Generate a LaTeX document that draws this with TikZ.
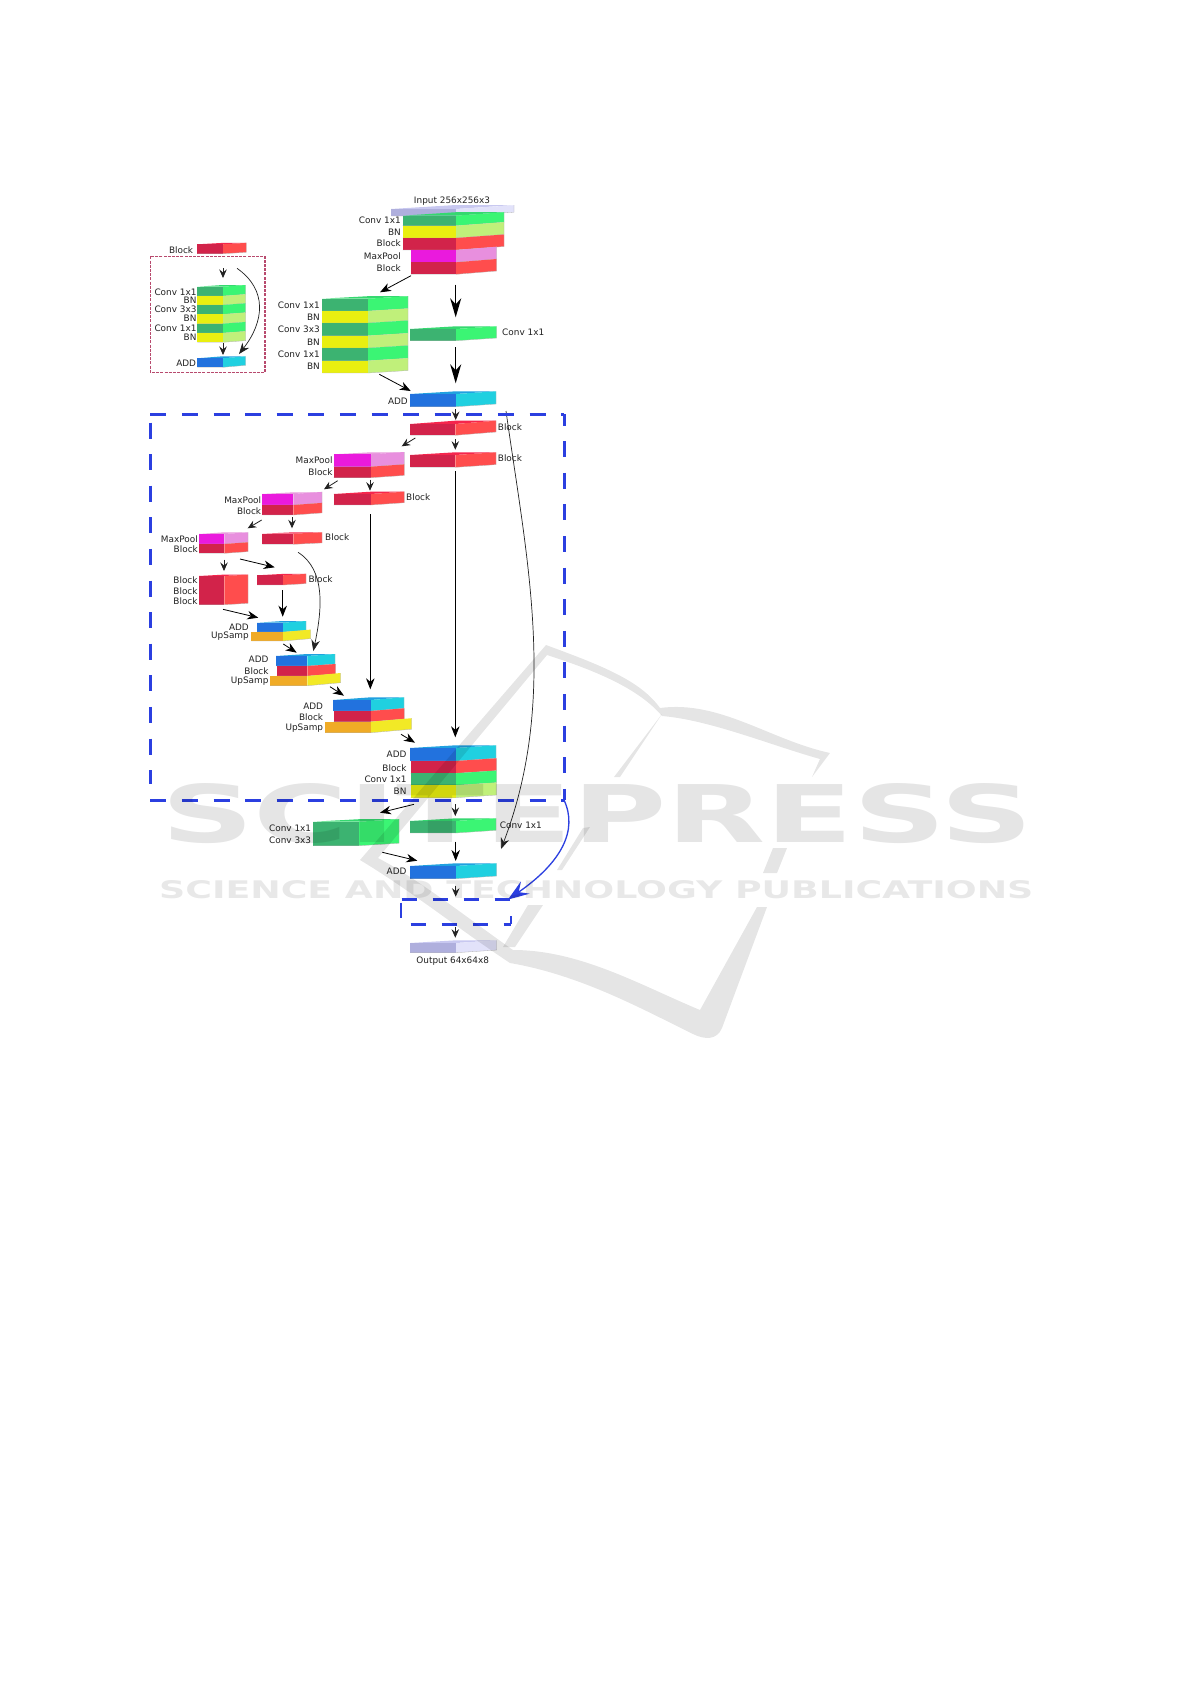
\documentclass[tikz,border=0pt]{standalone}
\usepackage{fontspec}
\setmainfont{DejaVu Sans}
\usetikzlibrary{arrows.meta}
\definecolor{gf}{HTML}{3CB371}\definecolor{gs}{HTML}{3BF574}\definecolor{gt}{HTML}{35D870}
\definecolor{yf}{HTML}{E9EF10}\definecolor{ys}{HTML}{C0F07A}
\definecolor{rf}{HTML}{D2234A}\definecolor{rs}{HTML}{FF4D4D}\definecolor{rt}{HTML}{F5264D}
\definecolor{mf}{HTML}{EA1ADD}\definecolor{ms}{HTML}{E88FDE}\definecolor{mt}{HTML}{E99BDD}
\definecolor{bf}{HTML}{2272DE}\definecolor{bs}{HTML}{20D0E0}\definecolor{bt}{HTML}{20A0E0}
\definecolor{of}{HTML}{F0AB26}\definecolor{os}{HTML}{F2E926}
\definecolor{pf}{HTML}{AFAFDD}\definecolor{ps}{HTML}{E2E2FA}\definecolor{pt}{HTML}{C8C8F0}
\definecolor{ink}{HTML}{222222}\definecolor{dblue}{HTML}{2B3FE0}\definecolor{dred}{HTML}{B84A6E}
\newcounter{lbl}\newcounter{cn}
\newcommand{\slab}[8]{%
  \fill[#8] (#2,#4)--(#3,#4-#6)--(#3,#5-#6)--(#2,#5)--cycle;
  \fill[#7] (#1,#4) rectangle (#2,#5);
  \draw[edge] (#1,#5)--(#2,#5)--(#3,#5-#6)--(#3,#4-#6);}
\newcommand{\topf}[6]{\fill[#6] (#1,#4)--(#2,#4)--(#3,#4-#5)--(#2,#4-#5)--cycle;}
\newcommand{\labE}[3]{\stepcounter{lbl}\node[lbl,anchor=east] (lbl\arabic{lbl}) at (#1,#2) {#3};}
\newcommand{\labW}[3]{\stepcounter{lbl}\node[lbl,anchor=west] (lbl\arabic{lbl}) at (#1,#2) {#3};}
\newcommand{\conn}[3]{\stepcounter{cn}\coordinate (c\arabic{cn}a) at (#2);\coordinate (c\arabic{cn}b) at (#3);\draw[#1] (c\arabic{cn}a)--(c\arabic{cn}b);}
\newcommand{\curv}[5]{\stepcounter{cn}\coordinate (c\arabic{cn}a) at (#2);\coordinate (c\arabic{cn}b) at (#5);\draw[#1] (c\arabic{cn}a) .. controls (#3) and (#4) .. (c\arabic{cn}b);}
\tikzset{
  lbl/.style={font=\fontsize{8.9}{10}\selectfont,text=ink,inner sep=0pt,yshift=-.6pt},
  edge/.style={draw=black!30,line width=.3pt},
  sa/.style={draw=ink,line width=.8pt,-{Stealth[length=8.5pt,width=7.5pt,inset=3pt]}},
  ma/.style={draw=black,line width=.8pt,-{Stealth[length=11pt,width=8.5pt,inset=3.5pt]}},
  ba/.style={draw=black,line width=1.4pt,-{Stealth[length=19pt,width=11pt,inset=6pt]}},
  cu/.style={draw=ink,line width=.7pt,-{Stealth[length=11pt,width=8.5pt,inset=3.5pt]}},
  dblu/.style={draw=dblue,line width=2.4pt,dash pattern=on 16pt off 15.6pt},
  dblv/.style={draw=dblue,line width=2.4pt,dash pattern=on 15pt off 16pt},
  wm/.style={fill=black,opacity=.1},
}
\begin{document}
\begin{tikzpicture}[x=1pt,y=-1pt]
\useasboundingbox (0,0) rectangle (1191,1684);
\fill[white] (0,0) rectangle (1191,1684);
% ---- Input
\stepcounter{lbl}\node[lbl] (input) at (452,200.7) {Input 256x256x3};
\fill[pt] (391,209)--(456,209)--(514,205)--(456,205)--cycle;
\slab{391}{456}{514}{209}{216}{3.8}{pf}{ps}
% ---- Stack 1
\topf{402.7}{456}{504}{215.7}{3.5}{gt}
\slab{402.7}{456}{504}{215.7}{225.7}{3.5}{gf}{gs}
\slab{402.7}{456}{504}{225.7}{238}{3.5}{yf}{ys}
\slab{402.7}{456}{504}{238}{250}{3.5}{rf}{rs}
\slab{411}{456}{496.7}{250}{262.3}{3.3}{mf}{ms}
\slab{411}{456}{496.7}{262.3}{274.3}{3.3}{rf}{rs}
\labE{401}{219.7}{Conv 1x1}\labE{401}{231.3}{BN}\labE{401}{242.7}{Block}\labE{401}{256}{MaxPool}\labE{401}{268}{Block}
% ---- Small block + legend
\topf{197.3}{222.7}{246.3}{244.3}{1.4}{rt}
\slab{197.3}{222.7}{246.3}{244.3}{253.7}{1.4}{rf}{rs}
\labE{193.3}{249.3}{Block}
\draw[dred,line width=1.1pt,dash pattern=on 3pt off 1.2pt] (150.3,256.3) rectangle (265,372.3);
\topf{197.3}{222.7}{245.7}{286.7}{1.7}{gt}
\slab{197.3}{222.7}{245.7}{286.7}{296}{1.7}{gf}{gs}
\slab{197.3}{222.7}{245.7}{296}{305}{1.7}{yf}{ys}
\slab{197.3}{222.7}{245.7}{305}{314.3}{1.7}{gf}{gs}
\slab{197.3}{222.7}{245.7}{314.3}{323.7}{1.7}{yf}{ys}
\slab{197.3}{222.7}{245.7}{323.7}{333}{1.7}{gf}{gs}
\slab{197.3}{222.7}{245.7}{333}{342.3}{1.7}{yf}{ys}
\labE{196.7}{291.3}{Conv 1x1}\labE{196.7}{299.7}{BN}\labE{196.7}{308.7}{Conv 3x3}\labE{196.7}{318}{BN}\labE{196.7}{327.7}{Conv 1x1}\labE{196.7}{337}{BN}
\topf{197.3}{222.7}{245.7}{358.3}{2}{bt}
\slab{197.3}{222.7}{245.7}{358.3}{367.3}{2}{bf}{bs}
\labE{196.3}{362.3}{ADD}
\conn{sa}{223,268}{223,278}
\curv{cu}{237,268.3}{268,290}{264,322}{239,354}
\conn{sa}{223,343.3}{223,355}
% ---- Stack 2
\topf{322.3}{368}{408}{298.7}{2.5}{gt}
\slab{322.3}{368}{408}{298.7}{311}{2.5}{gf}{gs}
\slab{322.3}{368}{408}{311}{323}{2.5}{yf}{ys}
\slab{322.3}{368}{408}{323}{335.7}{2.5}{gf}{gs}
\slab{322.3}{368}{408}{335.7}{348}{2.5}{yf}{ys}
\slab{322.3}{368}{408}{348}{360.7}{2.5}{gf}{gs}
\slab{322.3}{368}{408}{360.7}{373}{2.5}{yf}{ys}
\labE{320}{304.7}{Conv 1x1}\labE{320}{316.7}{BN}\labE{320}{329}{Conv 3x3}\labE{320}{341.3}{BN}\labE{320}{353.7}{Conv 1x1}\labE{320}{365.7}{BN}
\topf{410}{456}{496.7}{329}{2.7}{gt}
\slab{410}{456}{496.7}{329}{340.7}{2.7}{gf}{gs}
\labW{502}{331.7}{Conv 1x1}
\topf{410.3}{456}{496}{394}{2.7}{bt}
\slab{410.3}{456}{496}{394}{406.7}{2.7}{bf}{bs}
\labE{408}{400.3}{ADD}
\conn{ma}{411,275.7}{380,292.3}
\conn{ba}{455.7,284.7}{455.7,317.3}
\conn{ba}{455.7,347.3}{455.7,383.3}
\conn{ma}{379.3,374.3}{410.7,391}
\conn{sa}{455.7,409}{455.7,420}
% ---- Encoder blocks
\topf{410.3}{455.3}{496}{424}{3.3}{rt}
\slab{410.3}{455.3}{496}{424}{435.3}{3.3}{rf}{rs}
\labW{497.7}{426.7}{Block}
\topf{410.3}{455.3}{496}{455}{2.7}{rt}
\slab{410.3}{455.3}{496}{455}{467.3}{2.7}{rf}{rs}
\labW{497.7}{458}{Block}
\conn{sa}{415.3,438}{401.7,446.3}
\conn{sa}{455.3,439}{455.3,449.7}
\topf{333.7}{370.7}{404.3}{454.3}{2}{mt}
\slab{333.7}{370.7}{404.3}{454.3}{466.7}{2.3}{mf}{ms}
\slab{333.7}{370.7}{404.3}{466.7}{477.7}{2.3}{rf}{rs}
\labE{332.7}{460}{MaxPool}\labE{332.7}{472}{Block}
\topf{333.7}{370.7}{404.3}{494}{2.3}{rt}
\slab{333.7}{370.7}{404.3}{494}{505}{2.3}{rf}{rs}
\labW{406}{497}{Block}
\conn{sa}{337.7,480.7}{324,489.3}
\conn{sa}{370,479.7}{370,490.7}
\topf{262.3}{293.3}{322}{494}{1.7}{mt}
\slab{262.3}{293.3}{322}{494}{505}{2.1}{mf}{ms}
\slab{262.3}{293.3}{322}{505}{515}{2.1}{rf}{rs}
\labE{261.3}{499.3}{MaxPool}\labE{261.3}{510.3}{Block}
\topf{262.3}{293.3}{322}{533.7}{1.4}{rt}
\slab{262.3}{293.3}{322}{533.7}{544.3}{1.4}{rf}{rs}
\labW{325}{536.7}{Block}
\conn{sa}{261.7,520}{247.7,528.3}
\conn{sa}{292,517.3}{292,528.3}
\topf{199}{224.3}{248}{534}{1.7}{mt}
\slab{199}{224.3}{248}{534}{544}{1.7}{mf}{ms}
\slab{199}{224.3}{248}{544}{553.3}{1.7}{rf}{rs}
\labE{198}{538.7}{MaxPool}\labE{198}{548.3}{Block}
\topf{199}{224.3}{248}{576}{1.4}{rt}
\slab{199}{224.3}{248}{576}{604.7}{1.4}{rf}{rs}
\labE{197.7}{580}{Block}\labE{197.7}{590.3}{Block}\labE{197.7}{601}{Block}
\conn{sa}{224,559.7}{224,571}
\conn{ma}{240,559}{274.7,567.3}
\topf{257.3}{283}{306}{575.3}{1.4}{rt}
\slab{257.3}{283}{306}{575.3}{585}{1.4}{rf}{rs}
\labW{308.3}{578.7}{Block}
\conn{ma}{282.7,590}{282.7,616.7}
\conn{ma}{223,609.3}{258.3,617.7}
\curv{cu}{298,552.3}{326,570}{322,610}{313.3,651}
% ---- Decoder
\topf{257}{283}{306}{622.7}{1.7}{bt}
\slab{257}{283}{306}{622.7}{632}{1.7}{bf}{bs}
\slab{251.3}{283}{310.7}{632}{641}{2.4}{of}{os}
\labE{249}{626.3}{ADD}\labE{249}{636}{UpSamp}
\conn{ma}{283.3,644}{296.7,652.7}
\topf{276}{307.3}{335}{656}{2}{bt}
\slab{276}{307.3}{335}{656}{666}{2}{bf}{bs}
\slab{276.7}{307.3}{335.7}{666}{676}{2}{rf}{rs}
\slab{270}{307.3}{340.7}{676}{685.7}{3}{of}{os}
\labE{268.7}{659}{ADD}\labE{268.7}{670.7}{Block}\labE{268.7}{681}{UpSamp}
\conn{ma}{330,686.7}{344,695.7}
\conn{ma}{370.3,514.3}{370.3,689.3}
\topf{333.3}{370.7}{404}{700}{2.7}{bt}
\slab{333.3}{370.7}{404}{700}{711}{2.7}{bf}{bs}
\slab{333.7}{370.7}{404.3}{711}{721.7}{2.7}{rf}{rs}
\slab{325.3}{370.7}{411.7}{721.7}{732.7}{3.5}{of}{os}
\labE{323.3}{705.7}{ADD}\labE{323.3}{716.7}{Block}\labE{323.3}{727.3}{UpSamp}
\conn{ma}{401,734.3}{415,742.7}
\conn{ma}{455.3,471}{455.3,737.3}
\topf{410}{455.7}{496}{748}{2.7}{bt}
\slab{410}{455.7}{496}{748}{761}{2.7}{bf}{bs}
\slab{410.7}{455.7}{496.5}{761}{773.3}{2.7}{rf}{rs}
\slab{410.7}{455.7}{496.5}{773.3}{785.3}{2.7}{gf}{gs}
\slab{410.7}{455.7}{496.5}{785.3}{797.7}{2.7}{yf}{ys}
\labE{406.7}{754}{ADD}\labE{406.7}{767.3}{Block}\labE{406.7}{778.7}{Conv 1x1}\labE{406.7}{790.7}{BN}
% ---- Tail
\conn{ma}{414,804.3}{380,812.7}
\conn{sa}{455.3,804}{455.3,816}
\topf{313.3}{359}{399}{821.7}{2.5}{gt}
\slab{313.3}{359}{399}{821.7}{845.7}{2.5}{gf}{gs}
\labE{311.3}{827.3}{Conv 1x1}\labE{311.3}{839.7}{Conv 3x3}
\topf{410}{455.7}{496}{821}{2.7}{gt}
\slab{410}{455.7}{496}{821}{833}{2.7}{gf}{gs}
\labW{499.7}{824.3}{Conv 1x1}
\conn{ma}{455.7,841.7}{455.7,861}
\conn{ma}{382.3,852.3}{417.3,860.7}
\topf{410.3}{455.7}{496.7}{866}{2.7}{bt}
\slab{410.3}{455.7}{496.7}{866}{878.7}{2.7}{bf}{bs}
\labE{406.7}{870.7}{ADD}
\conn{sa}{455.7,885.7}{455.7,896.7}
\conn{sa}{455.3,926.7}{455.3,937.7}
\topf{410.3}{456}{496.7}{943}{2.7}{pt}
\slab{410.3}{456}{496.7}{943}{952.7}{2.7}{pf}{ps}
\stepcounter{lbl}\node[lbl] (output) at (452.7,961) {Output 64x64x8};
% ---- Long skip
\curv{cu}{506,411}{527,560}{558,700}{501,849}
% ---- Dashed regions
\draw[dblu] (150.3,414.3)--(564.3,414.3);
\draw[dblu] (150.3,422.5)--(150.3,784.3);
\draw[dblu] (150.3,800.3)--(564.3,800.3);
\draw[dblu,dash phase=4.7pt] (564.3,414.3)--(564.3,800.3);
\draw[dblv] (401.7,899.3)--(510.7,899.3);
\draw[dblv] (400.7,902.7)--(400.7,917.7);
\draw[dblv] (410.7,924.3)--(510.7,924.3);
\draw[dblv] (510.7,916)--(510.7,924.3);
\curv{draw=dblue,line width=1.3pt,-{Stealth[length=21pt,width=15pt,inset=8pt]}}{564,800}{578,830}{562,862}{508,899.5}
% ---- Watermark
\path[wm] (360,860)--(546,645) .. controls (600,665) and (640,680) .. (660,708) .. controls (720,700) and (770,740) .. (830,753)
  --(812,777)--(820,759) .. controls (770,745) and (710,720) .. (662,716) .. controls (640,690) and (600,672) .. (547,655)
  --(378,858) .. controls (420,880) and (470,920) .. (513,950) .. controls (580,950) and (640,985) .. (700,1010)
  --(757,907)--(767,907)--(722,1028) .. controls (717,1040) and (705,1040) .. (693,1034) .. controls (640,1008) and (580,975) .. (510,963)
  .. controls (460,930) and (410,890) .. (360,860)--cycle;
\path[wm] (662,714)--(620,777)--(614,777)--cycle;
\path[wm] (787,848)--(773,848)--(763,873)--(777,873)--cycle;
\path[wm] (590,827)--(583,828)--(557,870)--(562,870)--cycle;
\path[wm] (543,905)--(528,905)--(503,947)--(515,947)--cycle;
\node[inner sep=0pt,opacity=.1,anchor=north west] (wm1) at (161,783) {\resizebox{872pt}{59pt}{\fontspec{DejaVu Sans}\bfseries SCITEPRESS}};
\node[inner sep=0pt,opacity=.09,anchor=north west] (wm2) at (159,880) {\resizebox{874pt}{18pt}{\fontspec{DejaVu Sans}\bfseries SCIENCE AND TECHNOLOGY PUBLICATIONS}};
\end{tikzpicture}
\end{document}
